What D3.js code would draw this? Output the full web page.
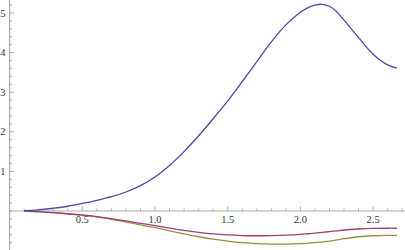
<!DOCTYPE html>
<html>
<head>
<meta charset="utf-8">
<script src="https://cdn.jsdelivr.net/npm/d3@7"></script>
<style>
  body { margin: 0; background: #fff; }
  svg text { font-family: "Liberation Serif", "Times New Roman", Times, serif; font-size: 10.5px; }
</style>
</head>
<body>
<div id="chart"></div>
<script>
var svgWidth = 405;
var svgHeight = 250;

// values
var xs = [0.1, 0.2, 0.3, 0.4, 0.5, 0.6, 0.7, 0.8, 0.9, 1.0, 1.1, 1.2, 1.3, 1.4, 1.5, 1.6, 1.7, 1.8, 1.9, 2.0, 2.05, 2.1, 2.15, 2.2, 2.25, 2.3, 2.4, 2.5, 2.6, 2.664];
var blue = [0.01, 0.03, 0.07, 0.12, 0.19, 0.27, 0.36, 0.48, 0.64, 0.86, 1.15, 1.5, 1.9, 2.33, 2.78, 3.27, 3.77, 4.27, 4.7, 5.02, 5.13, 5.2, 5.22, 5.17, 5.03, 4.82, 4.38, 3.96, 3.69, 3.61];
var purple = [0, -0.015, -0.04, -0.07, -0.1, -0.14, -0.19, -0.25, -0.31, -0.37, -0.43, -0.49, -0.54, -0.58, -0.605, -0.62, -0.625, -0.62, -0.61, -0.59, -0.575, -0.56, -0.54, -0.52, -0.5, -0.48, -0.455, -0.44, -0.435, -0.435];
var olive = [0, -0.015, -0.04, -0.07, -0.11, -0.15, -0.21, -0.28, -0.35, -0.42, -0.5, -0.58, -0.65, -0.71, -0.76, -0.8, -0.825, -0.835, -0.835, -0.825, -0.815, -0.8, -0.78, -0.76, -0.73, -0.7, -0.65, -0.625, -0.615, -0.615];

var xMajor = [0.5, 1.0, 1.5, 2.0, 2.5];
var yMajor = [1, 2, 3, 4, 5];

var svg = d3.select("#chart")
  .append("svg")
  .attr("width", svgWidth)
  .attr("height", svgHeight);

var xScale = d3.scaleLinear()
  .domain([0, 1])
  .range([9.6, 155]);

var yScale = d3.scaleLinear()
  .domain([0, 1])
  .range([211, 171.4]);

var axisColor = "#aaa";

// y axis
var yAxisG = svg.append("g");
yAxisG.append("line")
  .attr("x1", xScale(0)).attr("x2", xScale(0))
  .attr("y1", 0).attr("y2", svgHeight)
  .attr("stroke", axisColor).attr("stroke-width", 1.2);

var yMinor = d3.range(-4, 27).map(d => d * 0.2);
yAxisG.selectAll(".ytick")
  .data(yMinor)
  .enter()
  .append("line")
  .attr("x1", xScale(0))
  .attr("x2", d => xScale(0) + (Math.abs(d - Math.round(d)) < 1e-6 && Math.round(d) !== 0 ? 4.5 : 2.5))
  .attr("y1", d => yScale(d)).attr("y2", d => yScale(d))
  .attr("stroke", "#999").attr("stroke-width", 0.8);

yAxisG.selectAll(".ylabel")
  .data(yMajor)
  .enter()
  .append("text")
  .attr("x", 5.5)
  .attr("y", d => yScale(d) + 3.5)
  .attr("text-anchor", "end")
  .attr("fill", "#333")
  .text(d => d);

// x axis
var xAxisG = svg.append("g");
xAxisG.append("line")
  .attr("x1", xScale(0)).attr("x2", svgWidth)
  .attr("y1", yScale(0)).attr("y2", yScale(0))
  .attr("stroke", axisColor).attr("stroke-width", 1.2);

var xMinor = d3.range(1, 28).map(d => d * 0.1);
xAxisG.selectAll(".xtick")
  .data(xMinor)
  .enter()
  .append("line")
  .attr("x1", d => xScale(d)).attr("x2", d => xScale(d))
  .attr("y1", yScale(0))
  .attr("y2", d => yScale(0) - (Math.round(d * 10) % 5 === 0 ? 4.5 : 2.5))
  .attr("stroke", "#999").attr("stroke-width", 0.8);

xAxisG.selectAll(".xlabel")
  .data(xMajor)
  .enter()
  .append("text")
  .attr("x", d => xScale(d))
  .attr("y", yScale(0) + 11.5)
  .attr("text-anchor", "middle")
  .attr("fill", "#333")
  .text(d => d.toFixed(1));

// curves
var line = d3.line()
  .x(d => xScale(d[0]))
  .y(d => yScale(d[1]))
  .curve(d3.curveCatmullRom.alpha(0.5));

var series = [
  {ys: olive, color: "#9a8e3d"},
  {ys: purple, color: "#a03d72"},
  {ys: blue, color: "#4a4aa6"}
];

svg.selectAll(".curve")
  .data(series)
  .enter()
  .append("path")
  .attr("d", s => line(xs.map((x, i) => [x, s.ys[i]])))
  .attr("fill", "none")
  .attr("stroke", s => s.color)
  .attr("stroke-width", 1.3);
</script>
</body>
</html>
